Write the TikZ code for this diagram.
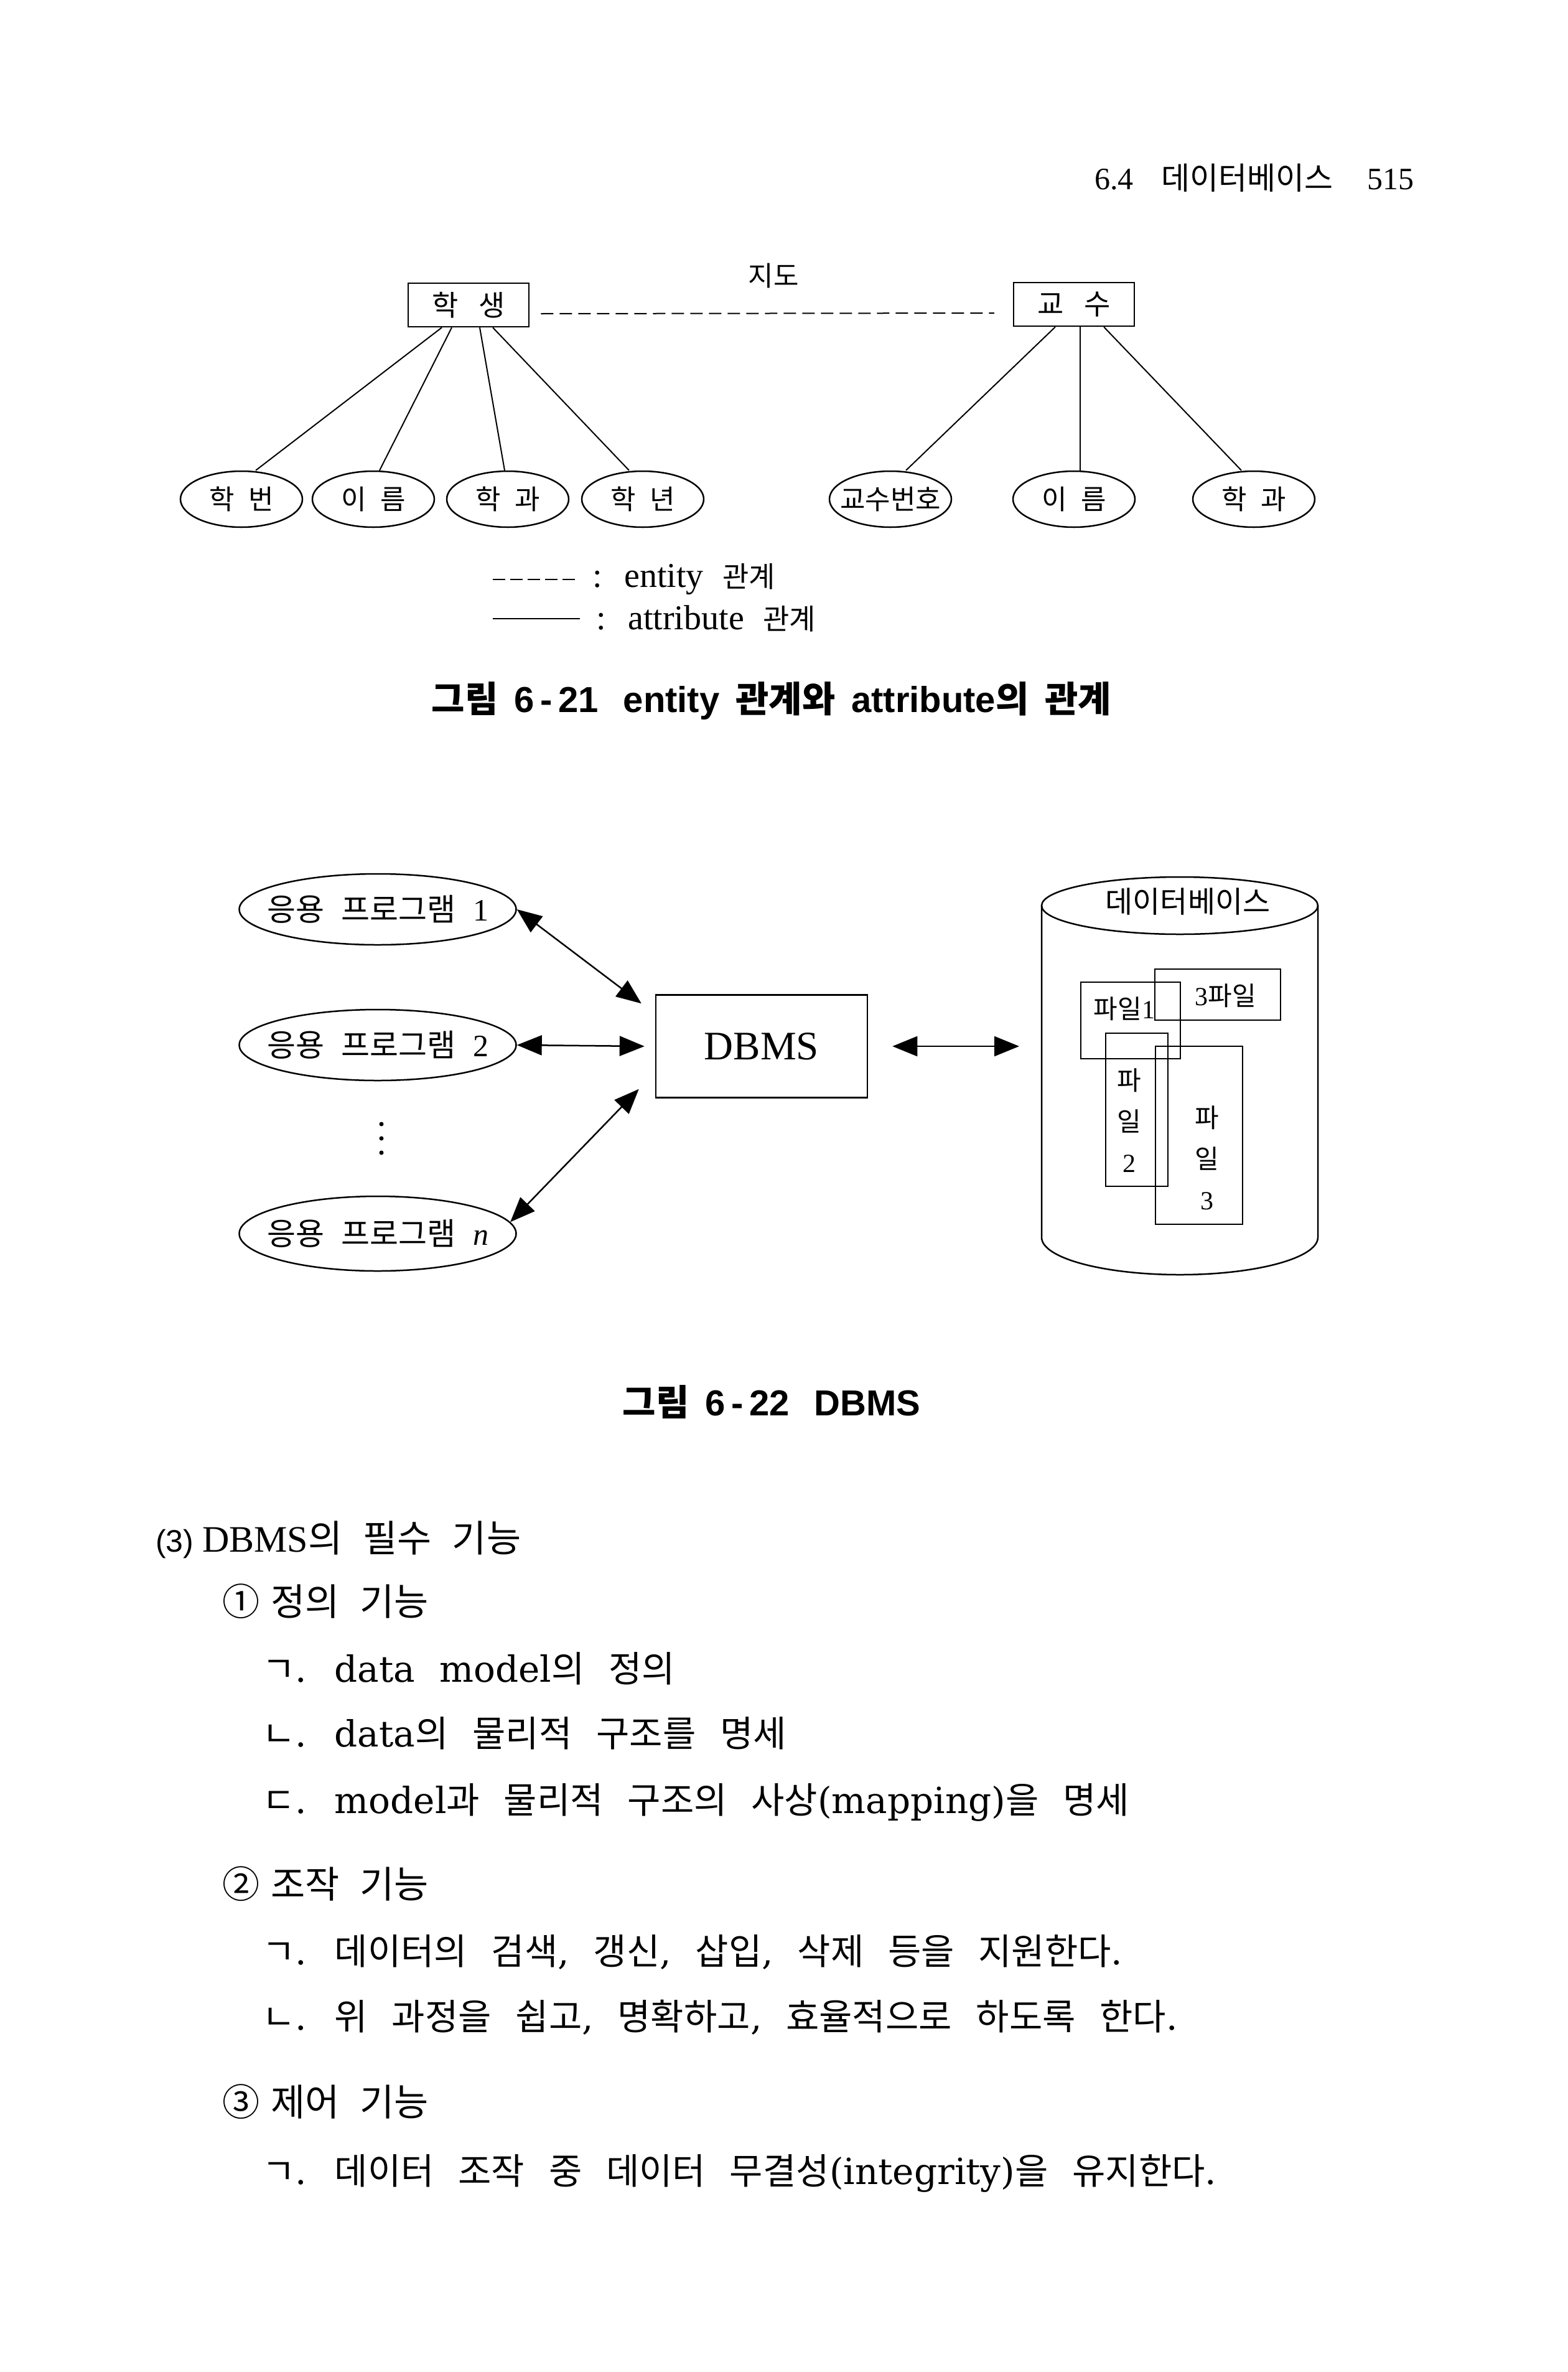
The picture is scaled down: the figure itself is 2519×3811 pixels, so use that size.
\documentclass[tikz,border=0pt]{standalone}
\usepackage{fontspec}
\setmainfont{Liberation Serif}[WordSpace=2.2]
\setsansfont{Liberation Sans}[WordSpace=1.6]
\newfontfamily\bodyfont{DejaVu Serif}[WordSpace=2.1]
\newfontfamily\krfont{Noto Sans CJK KR}
\usetikzlibrary{arrows.meta, shapes.geometric}

% Hangul, jamo and circled digits are set in the Korean font
\XeTeXinterchartokenstate=1
\newXeTeXintercharclass\krclass
\newcount\hcount
\hcount="21 \loop \XeTeXcharclass\hcount=0 \advance\hcount 1 \ifnum\hcount<"7F \repeat
\hcount="2460 \loop \XeTeXcharclass\hcount=\krclass \advance\hcount 1 \ifnum\hcount<"2474 \repeat
\hcount="3131 \loop \XeTeXcharclass\hcount=\krclass \advance\hcount 1 \ifnum\hcount<"318F \repeat
\hcount="AC00 \loop \XeTeXcharclass\hcount=\krclass \advance\hcount 1 \ifnum\hcount<"D7A4 \repeat
\XeTeXinterchartoks 0 \krclass = {\begingroup\krfont}
\XeTeXinterchartoks 4095 \krclass = {\begingroup\krfont}
\XeTeXinterchartoks \krclass 0 = {\endgroup}
\XeTeXinterchartoks \krclass 4095 = {\endgroup}

\begin{document}
\begin{tikzpicture}[x=1pt, y=-1pt,
		entity/.style={draw, line width=2.5pt, rectangle, minimum width=194pt, minimum height=70pt, font=\fontsize{46}{50}\selectfont},
		attr/.style={draw, line width=2.5pt, ellipse, minimum width=196pt, minimum height=90pt, inner xsep=-20pt, inner ysep=0pt, font=\fontsize{44}{48}\selectfont},
		link/.style={line width=2pt},
		prog/.style={draw, line width=2.5pt, ellipse, minimum width=445pt, minimum height=114pt, inner xsep=-40pt, inner ysep=0pt, font=\fontsize{50}{56}\selectfont},
		twoway/.style={line width=2.5pt, arrows={Triangle[length=40pt,width=32pt]-Triangle[length=40pt,width=32pt]}},
		filebox/.style={draw, line width=2.5pt},
		filetext/.style={align=center, inner sep=0pt, font=\fontsize{42}{66}\selectfont},
		figcap/.style={font=\sffamily\bfseries\fontsize{58}{64}\selectfont},
		heading/.style={anchor=base west, inner sep=0pt, font=\fontsize{60}{66}\selectfont},
		itemline/.style={anchor=base west, inner sep=0pt, font=\bodyfont\fontsize{58}{64}\selectfont}
		]
		
		\path[use as bounding box, fill=white] (0,0) rectangle (2519,3811);
		
		% page header
		\node[anchor=base east, inner sep=0pt, font=\fontsize{50}{56}\selectfont] (pagehead) at (2273,304) {6.4\hspace{45pt}데이터베이스\hspace{55pt}515};
		
		% figure 6-21
		\node[entity] (stu) at (753,490) {학\hspace{0.7em}생};
		\node[entity] (prof) at (1726,489) {교\hspace{0.7em}수};
		\node[font=\fontsize{44}{48}\selectfont] (guide) at (1243,443) {지도};
		\draw[link, dash pattern=on 20pt off 10pt] ([xshift=18pt,yshift=-14pt]stu.east) -- ([xshift=-30pt,yshift=-14pt]prof.west);
		
		\node[attr] (sid) at (388,802) {학\hspace{0.5em}번};
		\node[attr] (sname) at (600,802) {이\hspace{0.5em}름};
		\node[attr] (sdept) at (816,802) {학\hspace{0.5em}과};
		\node[attr] (syear) at (1033,802) {학\hspace{0.5em}년};
		\node[attr] (pid) at (1431,802) {교수번호};
		\node[attr] (pname) at (1726,802) {이\hspace{0.5em}름};
		\node[attr] (pdept) at (2015,802) {학\hspace{0.5em}과};
		
		\foreach \a/\b/\c in {-43/sid/23, -27/sname/10, 18/sdept/-5, 39/syear/-22}
			\draw[link] ([xshift=\a pt]stu.south) -- ([xshift=\c pt]\b.north);
		\foreach \a/\b/\c in {-30/pid/25, 10/pname/10, 48/pdept/-20}
			\draw[link] ([xshift=\a pt]prof.south) -- ([xshift=\c pt]\b.north);
		
		% legend
		\node[anchor=west, inner sep=0pt, font=\fontsize{56}{60}\selectfont] (lgent) at (952,931) {: entity {\fontsize{46}{50}\selectfont 관계}};
		\node[anchor=west, inner sep=0pt, font=\fontsize{56}{60}\selectfont] (lgatt) at (958,994) {: attribute {\fontsize{46}{50}\selectfont 관계}};
		\draw[link, dash pattern=on 20pt off 8pt] ([xshift=-28pt]lgent.west) -- ++(-132,0);
		\draw[link] ([xshift=-26pt]lgatt.west) -- ++(-140,0);
		
		\node[figcap] (cap1) at (1240,1126) {그림 6\,-\,21\hspace{40pt}entity 관계와 attribute의 관계};
		
		% figure 6-22
		\node[prog] (app1) at (607,1461) {응용 프로그램 1};
		\node[prog] (app2) at (607,1679) {응용 프로그램 2};
		\foreach \y in {1806,1829,1852}
			\fill (613,\y) circle[radius=3.5];
		\node[prog, minimum height=120pt] (appn) at (607,1982) {응용 프로그램 \textit{n}};
		\node[draw, line width=2.5pt, minimum width=340pt, minimum height=165pt, font=\fontsize{65}{70}\selectfont] (dbms) at (1224,1681) {DBMS};
		
		\draw[line width=2.5pt] (1674,1455) -- (1674,1988) arc[start angle=180, end angle=0, x radius=222, y radius=60] -- (2118,1455);
		\draw[line width=2.5pt] (1896,1455) ellipse [x radius=222, y radius=46];
		\node[font=\fontsize{48}{52}\selectfont] (dbname) at (1909,1449) {데이터베이스};
		\coordinate (dbside) at (1674,1681);
		
		\draw[twoway] (app1.east) -- ([xshift=-22pt,yshift=-15pt]dbms.north west);
		\draw[twoway] (app2.east) -- ([xshift=-17pt]dbms.west);
		\draw[twoway] (appn.5) -- ([xshift=-26pt,yshift=15pt]dbms.south west);
		\draw[twoway] ([xshift=39pt]dbms.east) -- ([xshift=-36pt]dbside);
		
		\draw[filebox] (1737,1578) rectangle (1897,1701);
		\draw[filebox] (1856,1557) rectangle (2058,1639);
		\draw[filebox] (1777,1660) rectangle (1877,1906);
		\draw[filebox] (1857,1681) rectangle (1997,1967);
		\node[filetext] (fone) at (1807,1621) {파일1};
		\node[filetext] (fthreea) at (1970,1600) {3파일};
		\node[filetext] (ftwo) at (1815,1800) {파\\일\\2};
		\node[filetext] (fthree) at (1940,1860) {파\\일\\3};
		
		\node[figcap] (cap2) at (1240,2252) {그림 6\,-\,22\hspace{40pt}DBMS};
		
		% text body
		\node[heading] (sec) at (250,2493) {{\sffamily\fontsize{50}{56}\selectfont(3)}\hspace{14pt}DBMS의 필수 기능};
		\node[heading] (def) at (357,2595) {①\hspace{18pt}정의 기능};
		\node[itemline] (defa) at (421,2702) {ㄱ. data model의 정의};
		\node[itemline] (defb) at (421,2806) {ㄴ. data의 물리적 구조를 명세};
		\node[itemline] (defc) at (421,2913) {ㄷ. model과 물리적 구조의 사상(mapping)을 명세};
		\node[heading] (man) at (357,3049) {②\hspace{18pt}조작 기능};
		\node[itemline] (mana) at (421,3156) {ㄱ. 데이터의 검색, 갱신, 삽입, 삭제 등을 지원한다.};
		\node[itemline] (manb) at (421,3261) {ㄴ. 위 과정을 쉽고, 명확하고, 효율적으로 하도록 한다.};
		\node[heading] (ctl) at (357,3399) {③\hspace{18pt}제어 기능};
		\node[itemline] (ctla) at (421,3509) {ㄱ. 데이터 조작 중 데이터 무결성(integrity)을 유지한다.};
	\end{tikzpicture}
\end{document}
